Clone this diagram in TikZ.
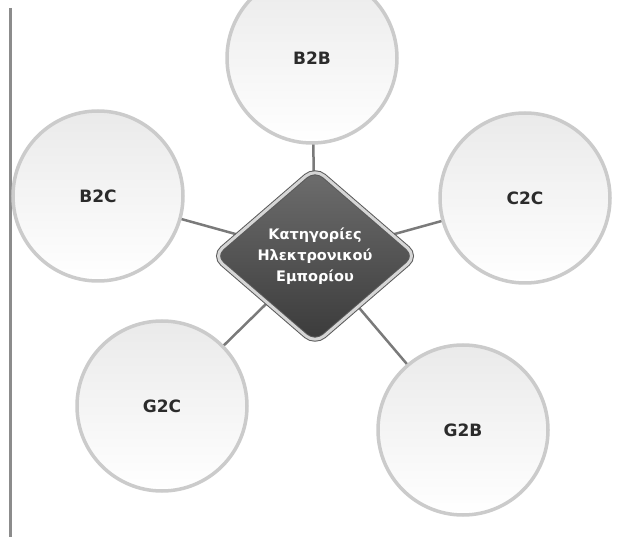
\documentclass[tikz,border=0pt]{standalone}
\usepackage{fontspec}
\setmainfont{DejaVu Sans}
\usetikzlibrary{shapes.geometric,backgrounds}
\definecolor{RIM-GRAY}{HTML}{CBCBCB}
\definecolor{BUBBLE-TOP}{HTML}{EAEAEA}
\definecolor{LABEL-DARK}{HTML}{2B2B2B}
\definecolor{HUB-TOP}{HTML}{6E6E6E}
\definecolor{HUB-BOTTOM}{HTML}{3A3A3A}
\definecolor{HUB-EDGE}{HTML}{5A5A5A}
\definecolor{HUB-RIM}{HTML}{D6D6D6}
\definecolor{SPOKE-GRAY}{HTML}{7A7A7A}
\definecolor{FRAME-GRAY}{HTML}{8C8C8C}

\begin{document}
\begin{tikzpicture}[x=1pt,y=-1pt,
  bubble/.style={circle, minimum size=170pt, inner sep=0pt, draw=RIM-GRAY,
    line width=3.5pt, top color=BUBBLE-TOP, bottom color=white, text=LABEL-DARK,
    font=\fontsize{17}{20}\selectfont\bfseries},
  hub/.style={diamond, aspect=1.17, minimum width=204pt, minimum height=176pt,
    inner sep=0pt, rounded corners=12pt, draw=HUB-EDGE, double=HUB-RIM,
    double distance=3pt, line width=1pt, top color=HUB-TOP,
    bottom color=HUB-BOTTOM, text=white, align=center,
    font=\fontsize{14.5}{21}\selectfont\bfseries},
  spoke/.style={draw=SPOKE-GRAY, line width=2.5pt}]
  \clip (0,0) rectangle (632,537);

  % frame line on the left
  \draw[FRAME-GRAY, line width=3pt] (10,8) coordinate (ftop) -- (10,537) coordinate (fbot);

  % centre
  \node[hub] (hub) at (315,256) {Κατηγορίες\\Ηλεκτρονικού\\Εμπορίου};

  % categories
  \node[bubble] (b2b) at (312,58) {B2B};
  \node[bubble] (b2c) at (98,196) {B2C};
  \node[bubble] (c2c) at (525,198) {C2C};
  \node[bubble] (g2c) at (162,406) {G2C};
  \node[bubble] (g2b) at (463,430) {G2B};

  % spokes
  \begin{scope}[on background layer]
    \foreach \cat in {b2b,b2c,c2c,g2c,g2b}
      \draw[spoke] (hub.center) -- (\cat.center);
  \end{scope}
\end{tikzpicture}
\end{document}
